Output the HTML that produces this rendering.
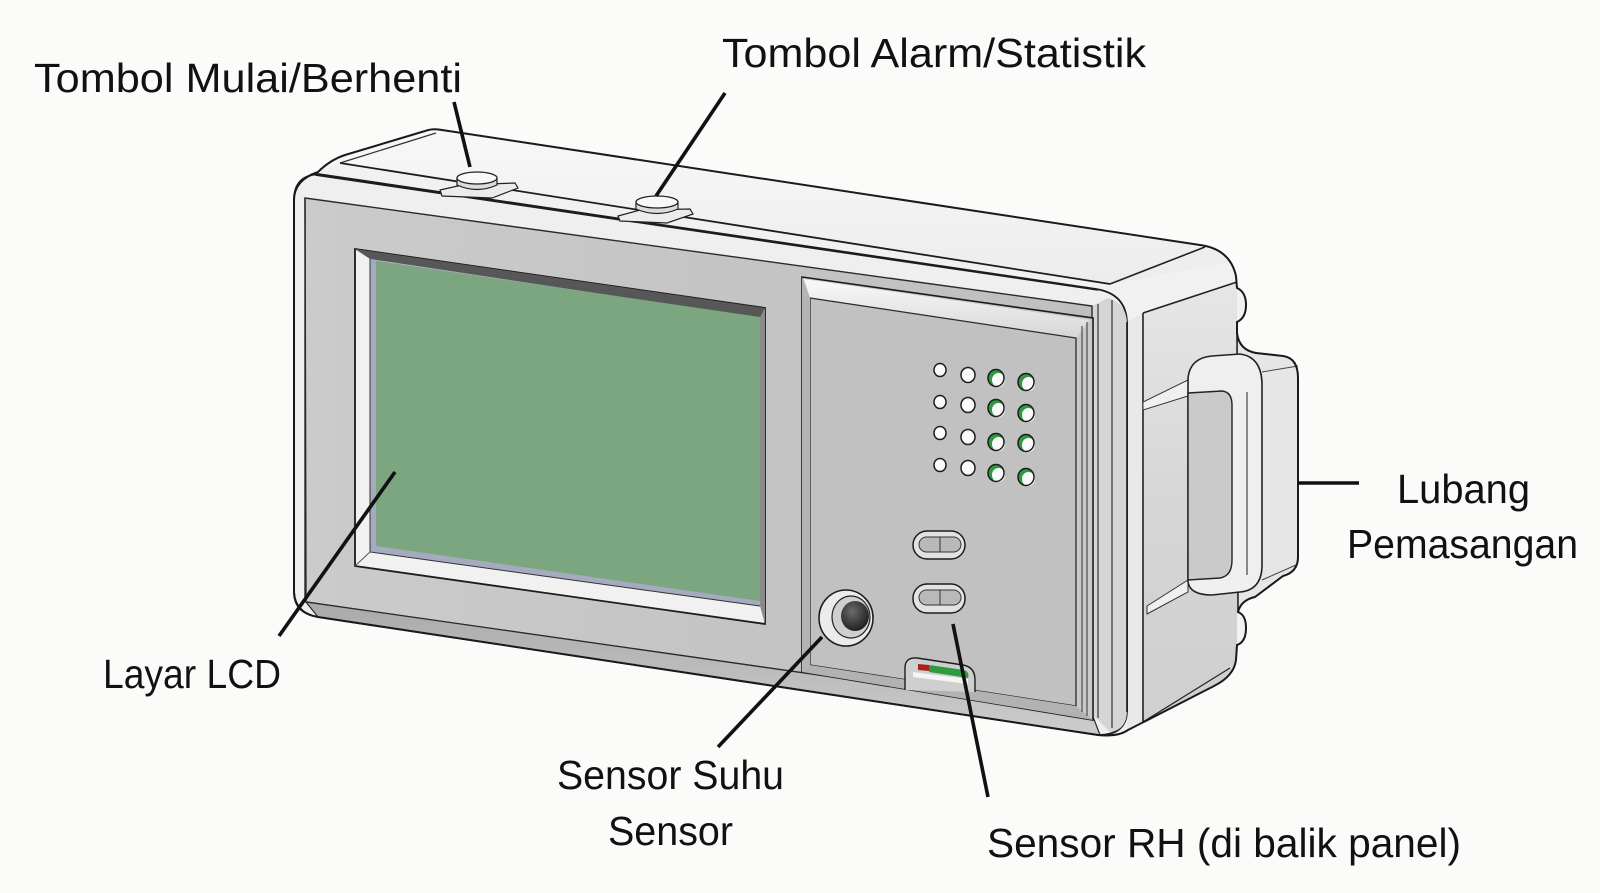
<!DOCTYPE html>
<html>
<head>
<meta charset="utf-8">
<style>
html,body{margin:0;padding:0;background:#fbfbfa;}
svg{display:block;}
text{font-family:"Liberation Sans",sans-serif;font-size:41px;fill:#111;}
</style>
</head>
<body>
<svg width="1600" height="893" viewBox="0 0 1600 893" xmlns="http://www.w3.org/2000/svg">
<defs>
<linearGradient id="topG" x1="0" y1="0" x2="0" y2="1">
<stop offset="0" stop-color="#f8f8f8"/><stop offset="1" stop-color="#ececec"/>
</linearGradient>
<linearGradient id="sideG" x1="0" y1="0" x2="0" y2="1">
<stop offset="0" stop-color="#e6e6e6"/><stop offset="0.5" stop-color="#d6d6d6"/><stop offset="1" stop-color="#cfcfcf"/>
</linearGradient>
<linearGradient id="faceG" x1="0" y1="0" x2="1" y2="0">
<stop offset="0" stop-color="#cbcbcb"/><stop offset="1" stop-color="#bfbfbf"/>
</linearGradient>
<linearGradient id="chamG" x1="0" y1="0" x2="0" y2="1">
<stop offset="0" stop-color="#a9a9a9"/><stop offset="1" stop-color="#cdcdcd"/>
</linearGradient>
<linearGradient id="bevG" x1="0" y1="0" x2="0" y2="1">
<stop offset="0" stop-color="#fafafa"/><stop offset="1" stop-color="#d6d6d6"/>
</linearGradient>
<radialGradient id="senG" cx="0.4" cy="0.35" r="0.7">
<stop offset="0" stop-color="#6a6a6a"/><stop offset="1" stop-color="#1c1c1c"/>
</radialGradient>
</defs>

<rect width="1600" height="893" fill="#fbfbfa"/>

<!-- silhouette base -->
<path d="M318,172 Q330,160 345,155 L425,131 Q433,128 442,130 L1200,245 Q1230,249 1236,276 L1237,288 Q1246,292 1246,305 Q1246,318 1237,322 L1237,333 Q1239,350 1256,353 L1283,356 Q1298,358 1298,378 L1298,557 Q1298,572 1283,576 L1255,597 Q1241,600 1238,612 Q1246,615 1246,628 Q1246,642 1237,645 L1236,660 Q1234,676 1214,686 L1128,730 Q1118,737 1098,735 L318,617 Q295,613 294,592 L294,200 Q294,180 318,172 Z" fill="#f1f1f1"/>

<!-- top face -->
<path d="M318,172 Q330,160 345,155 L425,131 Q433,128 442,130 L1200,245 Q1222,248 1230,262 L1110,284 L340,163 Z" fill="url(#topG)"/>

<!-- side face -->
<path d="M1143,313 L1237,283 L1237,660 Q1234,676 1214,686 L1143,722 Z" fill="url(#sideG)"/>
<path d="M1127,322 L1143,313 L1143,722 L1127,730 Z" fill="#e8e8e8"/>
<line x1="1143" y1="313" x2="1237" y2="282" stroke="#222" stroke-width="1.6"/>
<line x1="1110" y1="284" x2="1205" y2="247" stroke="#222" stroke-width="1.6"/>
<line x1="1143" y1="313" x2="1143" y2="722" stroke="#222" stroke-width="1.6"/>
<line x1="1143" y1="722" x2="1230" y2="668" stroke="#222" stroke-width="1.2"/>

<!-- mount block -->
<path d="M1237,333 Q1239,350 1256,353 L1283,356 Q1298,358 1298,378 L1298,557 Q1298,572 1283,576 L1255,597 Q1241,600 1238,612 Z" fill="#e6e6e6" stroke="#222" stroke-width="1.6"/>
<path d="M1143,402 L1188,380 L1188,396 L1143,410 Z" fill="#f0f0f0" stroke="#333" stroke-width="1"/>
<path d="M1147,614 L1188,592 L1188,580 L1147,606 Z" fill="#f0f0f0" stroke="#333" stroke-width="1"/>
<path d="M1188,378 Q1190,358 1212,356 L1240,354 Q1262,357 1262,385 L1262,565 Q1262,590 1240,592 L1212,595 Q1190,595 1188,582 Z" fill="#efefef" stroke="#222" stroke-width="1.6"/>
<path d="M1188,393 L1222,391 Q1232,392 1232,405 L1232,560 Q1232,576 1220,578 L1188,580 Z" fill="#cacaca" stroke="#222" stroke-width="1.4"/>
<line x1="1247" y1="392" x2="1247" y2="575" stroke="#444" stroke-width="1.2"/>
<line x1="1262" y1="372" x2="1298" y2="366" stroke="#444" stroke-width="1"/>
<line x1="1262" y1="580" x2="1296" y2="565" stroke="#444" stroke-width="1"/>

<!-- front rim -->
<path d="M294,200 Q294,176 318,174 L1096,289 Q1127,294 1127,324 L1127,710 Q1127,735 1098,735 L318,617 Q294,613 294,592 Z" fill="#efefef" stroke="#1c1c1c" stroke-width="1.8"/>
<path d="M1092,306 L1108,298 Q1127,304 1127,324 L1127,710 Q1127,730 1110,732 L1092,714 Z" fill="#d5d5d5"/>
<line x1="1098" y1="304" x2="1098" y2="718" stroke="#333" stroke-width="1.2"/>
<line x1="1112" y1="300" x2="1112" y2="728" stroke="#333" stroke-width="1.2"/>
<line x1="1127" y1="322" x2="1127" y2="712" stroke="#1c1c1c" stroke-width="1.6"/>

<!-- gray face -->
<path d="M305,198 L1092,306 L1092,714 L306,602 Z" fill="url(#faceG)" stroke="#2a2a2a" stroke-width="1.4"/>
<path d="M306,602 L1092,714 L1100,735 L318,617 Z" fill="url(#chamG)" stroke="#2a2a2a" stroke-width="1.2"/>
<line x1="305" y1="198" x2="305" y2="602" stroke="#2a2a2a" stroke-width="1.4"/>

<!-- top rim lines -->
<line x1="340" y1="163" x2="1110" y2="284" stroke="#1c1c1c" stroke-width="1.8"/>
<line x1="315" y1="175" x2="1098" y2="290" stroke="#1c1c1c" stroke-width="1.6"/>
<line x1="436" y1="133" x2="340" y2="163" stroke="#333" stroke-width="1.2"/>

<!-- LCD -->
<path d="M355,249 L765,308 L765,624 L355,566 Z" fill="#f1f1f1" stroke="#1c1c1c" stroke-width="1.8"/>
<path d="M355,249 L765,308 L760,318 L370,259 Z" fill="#575757"/>
<path d="M765,308 L765,624 L760,606 L760,318 Z" fill="#8a8a8a"/>
<path d="M370,259 L760,318 L760,606 L370,552 Z" fill="#a6aabf"/>
<path d="M376,261 L760,317 L760,601 L376,546 Z" fill="#7ca67f"/>
<path d="M370,259 L370,552 L760,606" fill="none" stroke="#333" stroke-width="1"/>
<line x1="355" y1="566" x2="370" y2="552" stroke="#555" stroke-width="1"/>

<!-- sensor panel -->
<path d="M802,277 L1093,318 L1093,720 L802,672 Z" fill="#c9c9c9" stroke="#1c1c1c" stroke-width="1.6"/>
<path d="M804,279 L1090,320 L1076,338 L810,298 Z" fill="url(#bevG)"/>
<path d="M810,298 L1076,338 L1076,706 L810,665 Z" fill="#c1c1c1" stroke="#2a2a2a" stroke-width="1.3"/>
<path d="M810,665 L1076,706 L1093,720 L802,672 Z" fill="#b2b2b2"/>
<path d="M802,277 L810,298 L810,665 L802,672 Z" fill="#b4b4b4"/>
<line x1="1082" y1="326" x2="1082" y2="712" stroke="#333" stroke-width="1"/>
<line x1="1087" y1="322" x2="1087" y2="716" stroke="#333" stroke-width="1"/>

<!-- holes -->
<g stroke="#1c1c1c" stroke-width="1.5">
<ellipse cx="940" cy="370" rx="6" ry="6.5" fill="#fafafa"/>
<ellipse cx="940" cy="402" rx="6" ry="6.5" fill="#fafafa"/>
<ellipse cx="940" cy="433" rx="6" ry="6.5" fill="#fafafa"/>
<ellipse cx="940" cy="465" rx="6" ry="6.5" fill="#fafafa"/>
<ellipse cx="968" cy="375" rx="7" ry="7.5" fill="#fafafa"/>
<ellipse cx="968" cy="405" rx="7" ry="7.5" fill="#fafafa"/>
<ellipse cx="968" cy="437" rx="7" ry="7.5" fill="#fafafa"/>
<ellipse cx="968" cy="468" rx="7" ry="7.5" fill="#fafafa"/>
</g>
<g>
<ellipse cx="996" cy="378" rx="8" ry="8.5" fill="#2f9a40"/>
<ellipse cx="996" cy="408" rx="8" ry="8.5" fill="#2f9a40"/>
<ellipse cx="996" cy="442" rx="8" ry="8.5" fill="#2f9a40"/>
<ellipse cx="996" cy="473" rx="8" ry="8.5" fill="#2f9a40"/>
<ellipse cx="1026" cy="382" rx="8" ry="8.5" fill="#2f9a40"/>
<ellipse cx="1026" cy="413" rx="8" ry="8.5" fill="#2f9a40"/>
<ellipse cx="1026" cy="443" rx="8" ry="8.5" fill="#2f9a40"/>
<ellipse cx="1026" cy="477" rx="8" ry="8.5" fill="#2f9a40"/>
</g>
<g fill="#fafafa">
<ellipse cx="998.5" cy="380" rx="6.5" ry="7"/>
<ellipse cx="998.5" cy="410" rx="6.5" ry="7"/>
<ellipse cx="998.5" cy="444" rx="6.5" ry="7"/>
<ellipse cx="998.5" cy="475" rx="6.5" ry="7"/>
<ellipse cx="1028.5" cy="384" rx="6.5" ry="7"/>
<ellipse cx="1028.5" cy="415" rx="6.5" ry="7"/>
<ellipse cx="1028.5" cy="445" rx="6.5" ry="7"/>
<ellipse cx="1028.5" cy="479" rx="6.5" ry="7"/>
</g>
<g fill="none" stroke="#1c1c1c" stroke-width="1.5">
<ellipse cx="996" cy="378" rx="8" ry="8.5"/>
<ellipse cx="996" cy="408" rx="8" ry="8.5"/>
<ellipse cx="996" cy="442" rx="8" ry="8.5"/>
<ellipse cx="996" cy="473" rx="8" ry="8.5"/>
<ellipse cx="1026" cy="382" rx="8" ry="8.5"/>
<ellipse cx="1026" cy="413" rx="8" ry="8.5"/>
<ellipse cx="1026" cy="443" rx="8" ry="8.5"/>
<ellipse cx="1026" cy="477" rx="8" ry="8.5"/>
</g>

<!-- slots -->
<rect x="913" y="531" width="52" height="28" rx="14" fill="#e2e2e2" stroke="#1c1c1c" stroke-width="1.5"/>
<rect x="919" y="537" width="42" height="15" rx="7.5" fill="#b9b9b9" stroke="#333" stroke-width="1"/>
<line x1="940" y1="537" x2="940" y2="552" stroke="#333" stroke-width="1"/>
<rect x="913" y="584" width="52" height="29" rx="14" fill="#e2e2e2" stroke="#1c1c1c" stroke-width="1.5"/>
<rect x="919" y="590" width="42" height="15" rx="7.5" fill="#b9b9b9" stroke="#333" stroke-width="1"/>
<line x1="940" y1="590" x2="940" y2="605" stroke="#333" stroke-width="1"/>

<!-- temp sensor -->
<ellipse cx="846" cy="618" rx="27" ry="28" fill="#ebebeb" stroke="#1c1c1c" stroke-width="1.6"/>
<ellipse cx="851" cy="617" rx="19" ry="21" fill="#cfcfcf" stroke="#222" stroke-width="1.2"/>
<ellipse cx="855" cy="616" rx="14" ry="15" fill="url(#senG)"/>

<!-- LED notch -->
<path d="M905,690 L905,668 Q905,657 917,658 L963,665 Q975,667 975,680 L975,692" fill="#cfcfcf" stroke="#1c1c1c" stroke-width="1.4"/>
<path d="M913,672 L968,679 L968,684 L913,677 Z" fill="#f4f4f4"/>
<path d="M918,664 L929,665 L929,671 L918,670 Z" fill="#a82020"/>
<path d="M929,665 L964,670 Q970,672 968,678 L929,672 Z" fill="#2f9a40"/>

<!-- buttons -->
<path d="M440,190 L462,185 L515,183 L518,188 L492,198 L442,196 Z" fill="#ececec" stroke="#222" stroke-width="1.2"/>
<path d="M457,178 L457,185 Q477,194 497,185 L497,178 Z" fill="#dcdcdc" stroke="#222" stroke-width="1.2"/>
<ellipse cx="477" cy="178" rx="20" ry="6" fill="#f8f8f8" stroke="#222" stroke-width="1.3"/>
<path d="M618,216 L640,210 L690,209 L693,214 L667,223 L620,221 Z" fill="#ececec" stroke="#222" stroke-width="1.2"/>
<path d="M636,202 L636,209 Q657,218 678,209 L678,202 Z" fill="#dcdcdc" stroke="#222" stroke-width="1.2"/>
<ellipse cx="657" cy="202" rx="21" ry="6" fill="#f8f8f8" stroke="#222" stroke-width="1.3"/>

<!-- silhouette outline -->
<path d="M318,172 Q330,160 345,155 L425,131 Q433,128 442,130 L1200,245 Q1230,249 1236,276 L1237,288 Q1246,292 1246,305 Q1246,318 1237,322 L1237,333 Q1239,350 1256,353 L1283,356 Q1298,358 1298,378 L1298,557 Q1298,572 1283,576 L1255,597 Q1241,600 1238,612 Q1246,615 1246,628 Q1246,642 1237,645 L1236,660 Q1234,676 1214,686 L1128,730 Q1118,737 1098,735 L318,617 Q295,613 294,592 L294,200 Q294,180 318,172 Z" fill="none" stroke="#1a1a1a" stroke-width="2"/>

<!-- leader lines -->
<g stroke="#111" stroke-width="3.6" stroke-linecap="butt">
<line x1="454" y1="102" x2="470" y2="167"/>
<line x1="725" y1="93" x2="656" y2="196"/>
<line x1="395" y1="472" x2="279" y2="636"/>
<line x1="822" y1="637" x2="718" y2="747"/>
<line x1="953" y1="624" x2="988" y2="797"/>
<line x1="1298" y1="483" x2="1359" y2="483"/>
</g>

<!-- labels -->
<text x="34" y="92" textLength="428" lengthAdjust="spacingAndGlyphs">Tombol Mulai/Berhenti</text>
<text x="722" y="67" textLength="424" lengthAdjust="spacingAndGlyphs">Tombol Alarm/Statistik</text>
<text x="103" y="688" textLength="178" lengthAdjust="spacingAndGlyphs">Layar LCD</text>
<text x="557" y="789" textLength="227" lengthAdjust="spacingAndGlyphs">Sensor Suhu</text>
<text x="608" y="845" textLength="125" lengthAdjust="spacingAndGlyphs">Sensor</text>
<text x="987" y="857" textLength="474" lengthAdjust="spacingAndGlyphs">Sensor RH (di balik panel)</text>
<text x="1397" y="503" textLength="133" lengthAdjust="spacingAndGlyphs">Lubang</text>
<text x="1347" y="558" textLength="231" lengthAdjust="spacingAndGlyphs">Pemasangan</text>
</svg>
</body>
</html>
